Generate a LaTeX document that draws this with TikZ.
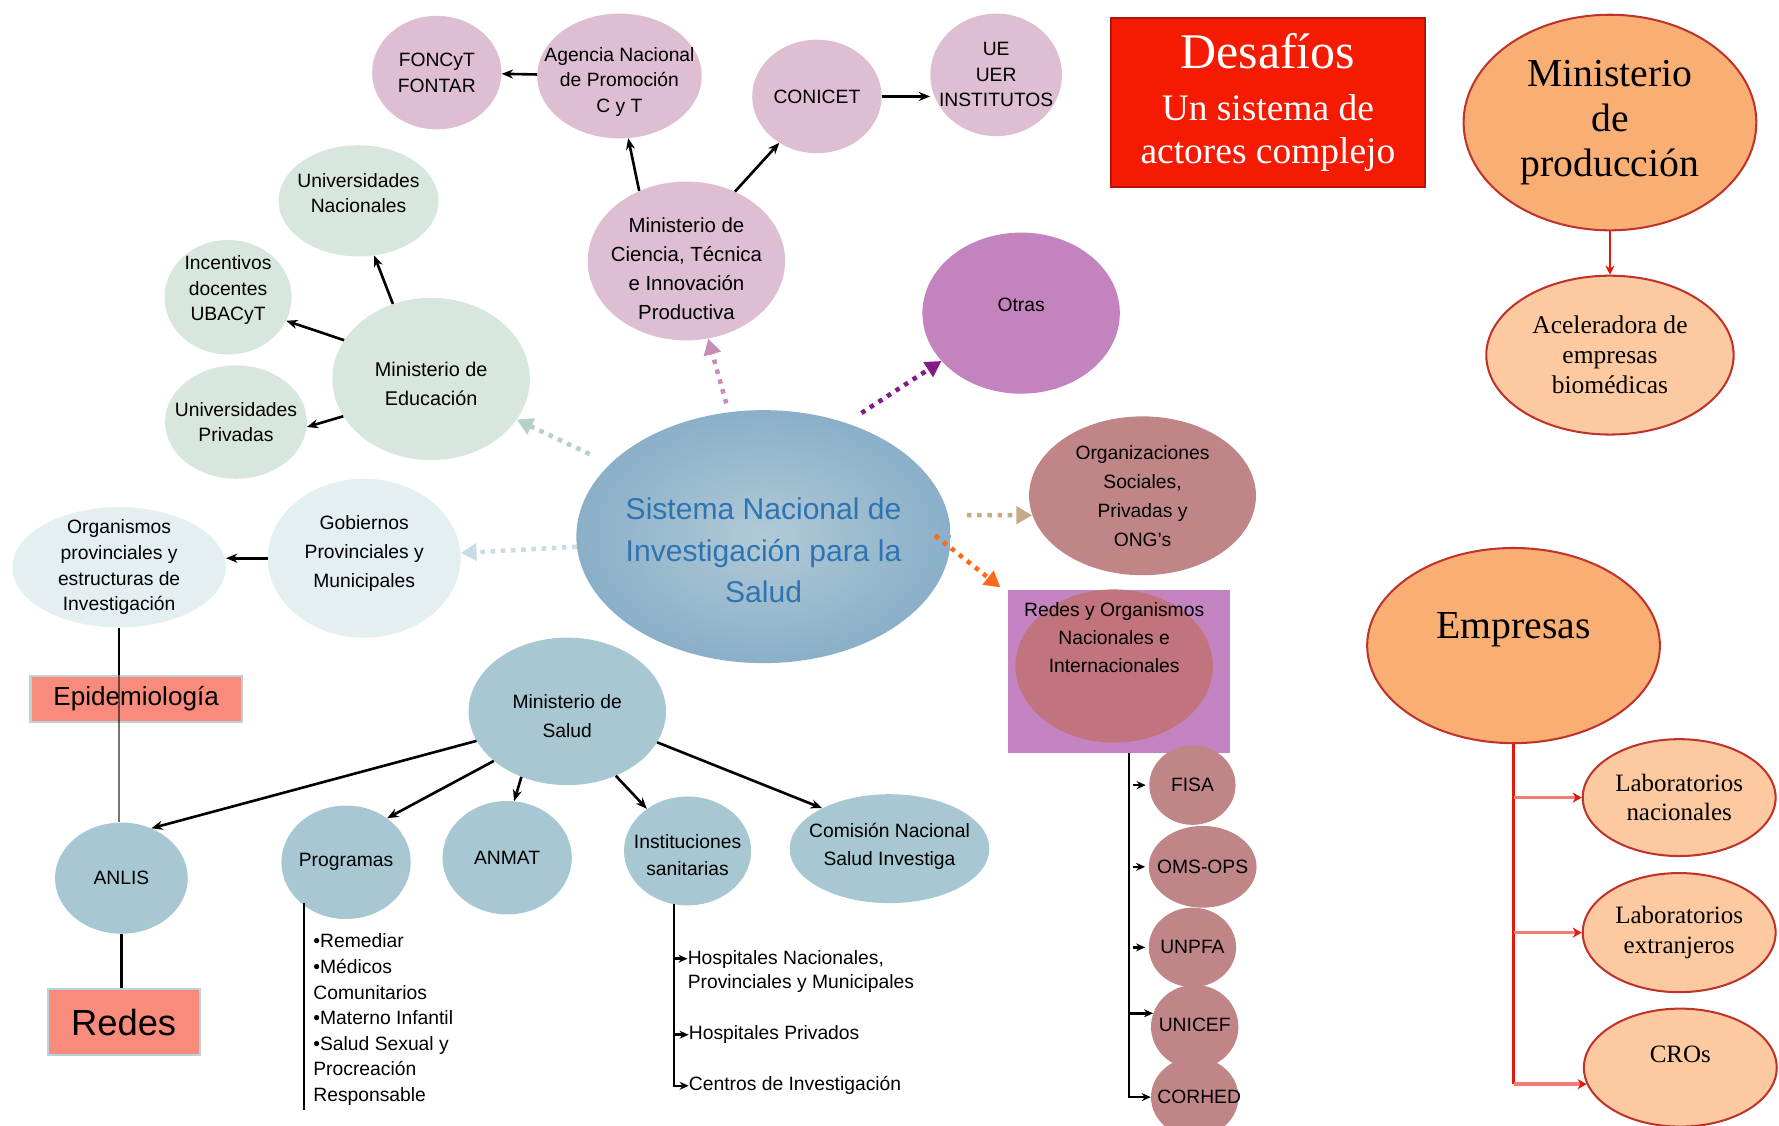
\documentclass[tikz,border=0pt]{standalone}
\usepackage{fontspec}
\setmainfont{Liberation Sans}
\newfontfamily\serifX{Liberation Serif}
\usetikzlibrary{shapes.geometric,arrows.meta,calc}
\definecolor{cpink}{HTML}{DEBED2}
\definecolor{cotras}{HTML}{C383BE}
\definecolor{cgreen}{HTML}{D8E7DE}
\definecolor{clight}{HTML}{E3EFF1}
\definecolor{csalud}{HTML}{A7C7D2}
\definecolor{crose}{HTML}{C08586}
\definecolor{corchid}{HTML}{C384C1}
\definecolor{credin}{HTML}{C1747E}
\definecolor{csalmon}{HTML}{F98B7D}
\definecolor{cedge}{HTML}{B8D3DA}
\definecolor{cred}{HTML}{F51B03}
\definecolor{cdred}{HTML}{B5140C}
\definecolor{corange}{HTML}{F9AE74}
\definecolor{cpeach}{HTML}{FCC9A1}
\definecolor{cborder}{HTML}{C0332B}
\definecolor{cline}{HTML}{E5170C}
\definecolor{cbranch}{HTML}{F17C73}
\definecolor{cblue}{HTML}{2F74B2}
\definecolor{cin}{HTML}{B1CAD7}
\definecolor{cout}{HTML}{8AAFC8}
\definecolor{dgreen}{HTML}{B3D2C4}
\definecolor{dpink}{HTML}{C68DB9}
\definecolor{dpurple}{HTML}{841A86}
\definecolor{dblue}{HTML}{C6DDE4}
\definecolor{dtan}{HTML}{C2AB85}
\definecolor{dorange}{HTML}{FF6A18}
\newcommand{\fz}[2]{\fontsize{#1}{#2}\selectfont}
\begin{document}
\begin{tikzpicture}[x=1pt,y=-1pt,
  el/.style={ellipse, inner sep=0pt},
  dims/.style 2 args={minimum width=#1pt, minimum height=#2pt},
  lbl/.style={align=center, text=black, font=\fz{17}{22.5}, inner sep=0pt},
  arr/.style={line width=2.3pt, -{Stealth[length=10pt,width=8pt]}},
  sarr/.style={line width=2.2pt, -{Stealth[length=8pt,width=7pt]}},
  dotarr/.style={line width=4pt, dash pattern=on 4pt off 5pt, -{Triangle[length=14pt,width=15pt]}},
  redbox/.style={draw=cedge, line width=2pt, fill=csalmon, inner sep=0pt},
  prodel/.style={ellipse, inner sep=0pt, draw=cborder, line width=1.8pt},
]
\useasboundingbox (0,0) rectangle (1568,992);

% ---- science group
\node[el, fill=cpink, dims={114}{100}, label={[lbl]center:{FONCyT\\FONTAR}}] (foncyt) at (385,64) {};
\node[el, fill=cpink, dims={145}{110}, label={[lbl, yshift=-5pt]center:{Agencia Nacional\\de Promoción\\C y T}}] (agencia) at (546,67) {};
\node[el, fill=cpink, dims={114}{100}, label={[lbl]center:{CONICET}}] (conicet) at (720,85) {};
\node[el, fill=cpink, dims={116}{108}, label={[lbl]center:{UE\\UER\\INSTITUTOS}}] (ue) at (878,66) {};
\node[el, fill=cpink, dims={174}{140}, label={[lbl, font=\fz{18}{25.5}, yshift=-7pt]center:{Ministerio de\\Ciencia, Técnica\\e Innovación\\Productiva}}] (minciencia) at (605,230) {};
\node[el, fill=cotras, dims={174}{142}, label={[lbl, yshift=7pt]center:{Otras}}] (otras) at (900,276) {};

% ---- education group
\node[el, fill=cgreen, dims={141}{98}, label={[lbl, yshift=7pt]center:{Universidades\\Nacionales}}] (univnac) at (316,177) {};
\node[el, fill=cgreen, dims={112}{101}, label={[lbl, yshift=6pt]center:{Incentivos\\docentes\\UBACyT}}] (incent) at (201,262) {};
\node[el, fill=cgreen, dims={174}{143}, label={[lbl, font=\fz{17.5}{25.5}, yshift=-4pt]center:{Ministerio de\\Educación}}] (minedu) at (380,334) {};
\node[el, fill=cgreen, dims={125}{100}, label={[lbl]center:{Universidades\\Privadas}}] (univpriv) at (208,372) {};

% ---- provincial
\node[el, fill=clight, dims={170}{140}, label={[lbl, font=\fz{17}{25.5}, yshift=4pt]center:{Gobiernos\\Provinciales y\\Municipales}}] (gob) at (321,492) {};
\node[el, fill=clight, dims={188}{106}, label={[lbl]center:{Organismos\\provinciales y\\estructuras de\\Investigación}}] (orgs) at (105,500) {};

% ---- central
\node[el, dims={330}{223}, inner color=cin, outer color=cout, label={[lbl, font=\fz{26.5}{36.5}, text=cblue, yshift=-12pt]center:{Sistema Nacional de\\Investigación para la\\Salud}}] (sns) at (673,473) {};

% ---- health group
\node[el, fill=csalud, dims={174}{130}, label={[lbl, font=\fz{17}{26}, yshift=-4pt]center:{Ministerio de\\Salud}}] (minsalud) at (500,627) {};
\node[el, fill=csalud, dims={117}{98}, label={[lbl]center:{ANLIS}}] (anlis) at (107,774) {};
\node[el, fill=csalud, dims={114}{100}, label={[lbl]center:{Programas}}] (prog) at (305,760) {};
\node[el, fill=csalud, dims={114}{100}, label={[lbl]center:{ANMAT}}] (anmat) at (447,756) {};
\node[el, fill=csalud, dims={112}{96}, label={[lbl, font=\fz{17}{24}, yshift=-4pt]center:{Instituciones\\sanitarias}}] (inst) at (606,750) {};
\node[el, fill=csalud, dims={176}{96}, label={[lbl, font=\fz{17}{25}, yshift=2pt]center:{Comisión Nacional\\Salud Investiga}}] (comision) at (784,748) {};

% ---- organisations and networks
\node[el, fill=crose, dims={200}{140}, label={[lbl, font=\fz{17}{25.5}]center:{Organizaciones\\Sociales,\\Privadas y\\ONG's}}] (org) at (1007,437) {};
\node[fill=corchid, minimum width=196pt, minimum height=144pt, inner sep=0pt] (redesbox) at (986,592) {};
\node[el, fill=credin, dims={174}{135}, label={[lbl, font=\fz{17}{25}, yshift=25pt]center:{Redes y Organismos\\Nacionales e\\Internacionales}}] (redesel) at (982,587) {};
\node[el, fill=crose, dims={76}{70}, label={[lbl]center:{FISA}}] (fisa) at (1051,692) {};
\node[el, fill=crose, dims={95}{72}, label={[lbl]center:{OMS-OPS}}] (oms) at (1060,764) {};
\node[el, fill=crose, dims={77}{70}, label={[lbl]center:{UNPFA}}] (unpfa) at (1051,835) {};
\node[el, fill=crose, dims={77}{74}, label={[lbl, yshift=2pt]center:{UNICEF}}] (unicef) at (1053,905) {};
\node[el, fill=crose, dims={77}{70}, label={[lbl, xshift=4pt]center:{CORHED}}] (corhed) at (1053,967) {};

% ---- rectangles left
\node[redbox, minimum width=186pt, minimum height=41pt, font=\fz{23}{26}] (epi) at (120,616) {Epidemiología};
\node[redbox, minimum width=134pt, minimum height=58pt, font=\fz{32}{36}] (redes) at (109,901) {Redes};

% ---- lists
\node[anchor=north west, align=left, inner sep=0pt, font=\fz{17}{22.5}] (plist) at (276,823) {•Remediar\\•Médicos\\Comunitarios\\•Materno Infantil\\•Salud Sexual y\\Procreación\\Responsable};
\node[anchor=north west, align=left, inner sep=0pt, font=\fz{17}{21}] (hn) at (606,838) {Hospitales Nacionales,\\Provinciales y Municipales};
\node[anchor=west, inner sep=0pt, font=\fz{17}{21}] (hp) at (607,912) {Hospitales Privados};
\node[anchor=west, inner sep=0pt, font=\fz{17}{21}] (cdi) at (607,957) {Centros de Investigación};

% ---- right side
\node[rectangle, fill=cred, draw=cdred, line width=2pt, minimum width=277pt, minimum height=149pt, inner sep=0pt, align=center, text=white, font=\serifX\fz{33}{38}] (desafios) at (1117.5,90.5) {{\fz{44}{48}Desafíos}\\[8pt]Un sistema de\\actores complejo};
\node[prodel, fill=corange, dims={258}{190}, label={[lbl, font=\serifX\fz{35}{40}]center:{Ministerio\\de\\producción}}] (minprod) at (1419,108) {};
\node[prodel, fill=cpeach, dims={218}{140}, label={[lbl, font=\serifX\fz{22.5}{26.5}]center:{Aceleradora de\\empresas\\biomédicas}}] (acel) at (1419,313) {};
\node[prodel, fill=corange, dims={258}{172}, label={[lbl, font=\serifX\fz{35}{40}, yshift=14pt]center:{Empresas}}] (emp) at (1334,569) {};
\node[prodel, fill=cpeach, dims={170}{103}, label={[lbl, font=\serifX\fz{22}{26}]center:{Laboratorios\\nacionales}}] (labnac) at (1480,703) {};
\node[prodel, fill=cpeach, dims={170}{105}, label={[lbl, font=\serifX\fz{22}{26}]center:{Laboratorios\\extranjeros}}] (labext) at (1480,822) {};
\node[prodel, fill=cpeach, dims={170}{104}, label={[lbl, font=\serifX\fz{22}{26}, yshift=12pt]center:{CROs}}] (cros) at (1481,941) {};

% ---- black arrows
\draw[arr] (agencia) -- (foncyt);
\draw[arr] (minciencia.124) -- (agencia.278);
\draw[arr] (minciencia.55) -- (conicet.231);
\draw[arr] (conicet.east) -- (conicet.east -| ue.west);
\draw[arr] (minedu.117) -- (univnac.286);
\draw[arr] (minedu.156) -- (incent.338);
\draw[arr] (minedu.203) -- (univpriv.356);
\draw[arr] (gob.west) -- (gob.west -| orgs.east);
\draw[arr] (minsalud.198) -- (anlis.59);
\draw[arr] (minsalud.214) -- (prog.47);
\draw[arr] (minsalud.235) -- (anmat.83);
\draw[arr] (minsalud.307) -- (inst.134);
\draw[arr] (minsalud.341) -- (comision.149);

% ---- plain lines
\draw[line width=2.3pt] (orgs.south) -- (orgs.south |- epi.north);
\draw[line width=2.3pt, black, opacity=0.55] (orgs.south |- epi.north) -- (orgs.south |- anlis.north);
\draw[line width=2.3pt] (anlis.south) -- (anlis.south |- redes.north);
\coordinate (pend) at (268,978);
\draw[line width=2.2pt] (pend |- prog.south west) -- (pend);

% ---- institutions list
\coordinate (hnarrow) at ($(hn.north west)+(0,7)$);
\draw[sarr] (inst.256) -- (inst.256 |- cdi.west) -- (cdi.west);
\draw[sarr] (inst.256 |- hp.west) -- (hp.west);
\draw[sarr] (inst.256 |- hnarrow) -- (hnarrow);

% ---- networks list
\coordinate (rtop) at (995,664);
\draw[sarr] (rtop) -- (rtop |- corhed) -- (corhed);
\draw[sarr] (rtop |- unicef.162) -- (unicef.162);
\draw[sarr] ($(fisa.west)+(-14,0)$) -- ($(fisa.west)+(-3,0)$);
\draw[sarr] ($(oms.west)+(-14,0)$) -- ($(oms.west)+(-3,0)$);
\draw[sarr] ($(unpfa.west)+(-14,0)$) -- ($(unpfa.west)+(-3,0)$);

% ---- dotted arrows from the centre
\draw[dotarr, dgreen, shorten <=20pt] (sns) -- (minedu);
\draw[dotarr, dpink, shorten <=8pt] (sns) -- (minciencia);
\draw[dotarr, dpurple, shorten <=16pt] (sns.54) -- (otras.211);
\draw[dotarr, dblue] (sns) -- (gob);
\draw[dotarr, dtan] ($(sns.east)+(14,-19)$) -- (org.190);
\draw[dotarr, dorange] ($(sns.east)+(-14,-1)$) -- ($(redesbox.north west)+(-6,-2)$);

% ---- red connectors
\draw[cline, line width=2pt, -{Stealth[length=8pt,width=8pt]}] (minprod.south) -- (acel.north);
\draw[cline, line width=2.5pt] (emp.south) -- (emp.south |- cros.190);
\draw[cbranch, line width=3pt, -{Stealth[length=8pt,width=9pt,color=cline]}] (emp.south |- labnac.west) -- (labnac.west);
\draw[cbranch, line width=3pt, -{Stealth[length=8pt,width=9pt,color=cline]}] (emp.south |- labext.west) -- (labext.west);
\draw[cbranch, line width=3pt, -{Stealth[length=8pt,width=9pt,color=cline]}] (emp.south |- cros.190) -- (cros.190);
\end{tikzpicture}
\end{document}
